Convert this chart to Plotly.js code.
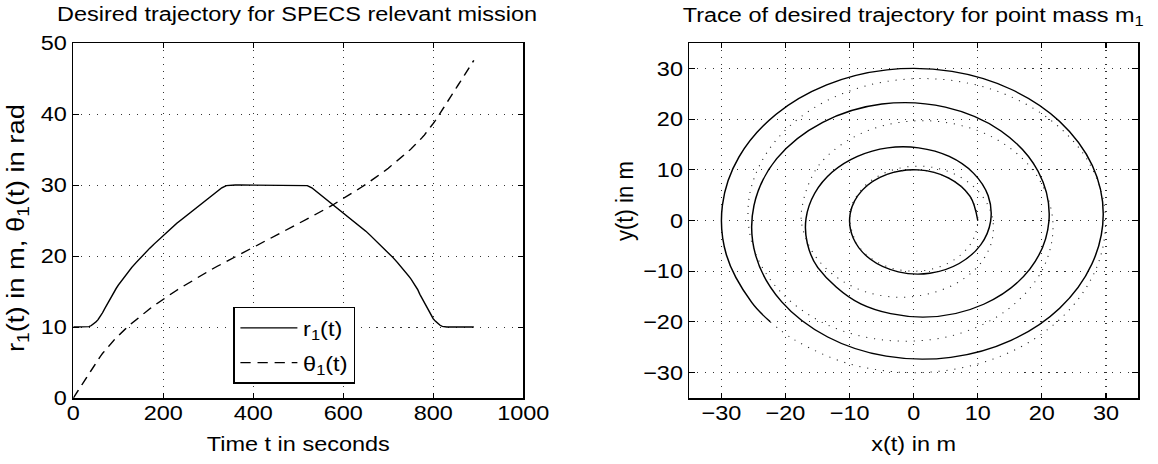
<!DOCTYPE html>
<html>
<head>
<meta charset="utf-8">
<script src="https://cdn.plot.ly/plotly-3.0.1.min.js"></script>
<style>
html,body{margin:0;padding:0;background:#fff;overflow:hidden;width:1158px;height:464px;}
#wrap{width:1016px;height:464px;transform:scale(1.1398,1);transform-origin:0 0;}
#chart{width:1016px;height:464px;}
</style>
</head>
<body>
<div id="wrap"><div id="chart"></div></div>
<script>
// time samples (s)
const timeS = [
  0,5,10,15,20,25,30,35,40,45,50,55,60,65,70,75,80,85,90,95,100,105,110,115,120,
  130,140,150,160,170,180,190,200,210,220,230,240,250,260,270,280,290,300,310,320,330,340,
  350,360,370,380,390,400,410,420,430,440,
  445,
  450,460,470,480,490,500,510,
  520,530,540,550,560,570,580,590,600,610,620,630,640,650,660,670,680,690,700,710,720,730,740,
  745,750,755,760,765,770,775,780,785,790,795,800,805,810,815,820,825,
  830,835,840,845,850,855,860,865,870,875,880,885,890
];
// r1(t) in m
const radiusM = [
  10,10,10,10,10,10,10,10.05,10.2,10.4,10.7,11.05,11.5,12.0,12.6,13.2,13.8,14.35,14.9,15.4,15.9,16.35,16.8,17.2,17.6,
  18.4,19.1,19.8,20.5,21.1,21.7,22.3,22.9,23.5,24.0,24.6,25.1,25.6,26.1,26.6,27.1,27.6,28.1,28.6,29.1,29.6,29.9,
  30,30,30,30,30,30,30,30,30,30,
  30,
  30,30,30,30,30,30,30,
  29.9,29.6,29.1,28.6,28.1,27.6,27.1,26.6,26.1,25.6,25.1,24.6,24.0,23.5,22.9,22.3,21.7,21.1,20.5,19.8,19.1,18.4,17.6,
  17.2,16.8,16.35,15.9,15.3,14.6,14.0,13.4,12.8,12.2,11.6,11.15,10.8,10.5,10.25,10.1,10.02,
  10,10,10,10,10,10,10,10,10,10,10,10,10
];
// theta1(t) in rad
const angleRad = [
  0,0.5,1.0,1.5,2.0,2.5,3.0,3.5,3.99,4.48,4.95,5.41,5.85,6.27,6.68,7.07,7.44,7.80,8.13,8.46,8.78,9.09,9.40,9.69,9.98,
  10.53,11.07,11.58,12.08,12.56,13.03,13.48,13.92,14.35,14.77,15.19,15.59,15.98,16.37,16.75,17.12,17.49,17.85,18.20,18.55,18.89,19.22,
  19.56,19.89,20.22,20.56,20.89,21.22,21.56,21.89,22.22,22.56,
  22.72,
  22.89,23.22,23.56,23.89,24.22,24.56,24.89,
  25.22,25.56,25.90,26.25,26.60,26.96,27.33,27.70,28.08,28.47,28.86,29.26,29.67,30.09,30.52,30.97,31.42,31.89,32.37,32.87,33.38,33.91,34.47,
  34.76,35.05,35.35,35.66,35.98,36.31,36.66,37.03,37.41,37.81,38.23,38.67,39.12,39.59,40.07,40.56,41.06,
  41.56,42.06,42.56,43.06,43.56,44.06,44.56,45.06,45.56,46.06,46.56,47.06,47.56
];
// the trace is drawn solid for the first half of the mission and dotted afterwards
const splitTime = 445;

const leftXTicks = [0,200,400,600,800,1000];
const leftYTicks = [0,10,20,30,40,50];
const rightTicks = [-30,-20,-10,0,10,20,30];

const traceX = radiusM.map((r,i)=>r*Math.cos(angleRad[i]));
const traceY = radiusM.map((r,i)=>r*Math.sin(angleRad[i]));
const splitIdx = timeS.indexOf(splitTime);

const fontFam = '"Liberation Sans", Arial, Helvetica, sans-serif';
const fs = 20.6;
const tf = {family:fontFam, size:fs, color:'#000'};

const data = [
  {x: timeS, y: radiusM, type:'scatter', mode:'lines', name:'r<sub>1</sub>(t)', legendgroup:'r',
   line:{color:'#000', width:1.3}, xaxis:'x', yaxis:'y'},
  {x: timeS, y: angleRad, type:'scatter', mode:'lines', name:'θ<sub>1</sub>(t)', legendgroup:'th',
   line:{color:'#000', width:1.3, dash:'9px,6px'}, xaxis:'x', yaxis:'y'},
  {x: traceX.slice(0, splitIdx+1), y: traceY.slice(0, splitIdx+1), type:'scatter', mode:'lines',
   line:{color:'#000', width:1.3, shape:'spline', smoothing:1}, xaxis:'x2', yaxis:'y2', showlegend:false},
  {x: traceX.slice(splitIdx), y: traceY.slice(splitIdx), type:'scatter', mode:'lines',
   line:{color:'#222', width:1, shape:'spline', smoothing:1, dash:'1px,6px'}, xaxis:'x2', yaxis:'y2', showlegend:false}
];

function ax(extra){
  return Object.assign({
    showline:true, linecolor:'#000', linewidth:1.5, mirror:'ticks',
    ticks:'inside', ticklen:5, tickwidth:1, tickcolor:'#000',
    showgrid:true, gridcolor:'rgba(0,0,0,0.8)', gridwidth:1, griddash:'1px,6px',
    zeroline:false, fixedrange:true, tickfont:tf
  }, extra);
}

const layout = {
  width:1016, height:464,
  margin:{l:0, r:0, t:43, b:66, pad:0},
  paper_bgcolor:'#fff', plot_bgcolor:'#fff',
  font:tf,
  showlegend:true,
  legend:{x:0.2015, y:0.2572, xanchor:'left', yanchor:'top', bgcolor:'#fff',
          bordercolor:'#000', borderwidth:1.2, font:tf, itemwidth:50, tracegroupgap:5},
  xaxis: ax({domain:[0.0633,0.4519], range:[0,1000], tickvals:leftXTicks, anchor:'y', ticklabelstandoff:-4,
             title:{text:'Time t in seconds', standoff:13, font:tf}}),
  yaxis: ax({domain:[0,1], range:[0,50], tickvals:leftYTicks, anchor:'x'}),
  xaxis2: ax({domain:[0.5953,0.9827], range:[-35,35], tickvals:rightTicks, anchor:'y2', ticklabelstandoff:-4,
             title:{text:'x(t) in m', standoff:13, font:tf}}),
  yaxis2: ax({domain:[0,1], range:[-35,35], tickvals:rightTicks, anchor:'x2'}),
  annotations:[
    {text:'Desired trajectory for SPECS relevant mission', xref:'paper', yref:'paper',
     x:0.2566, y:1.0845, xanchor:'center', yanchor:'middle', showarrow:false, font:tf},
    {text:'Trace of desired trajectory for point mass m<sub>1</sub>', xref:'paper', yref:'paper',
     x:0.788, y:1.076, xanchor:'center', yanchor:'middle', showarrow:false, font:tf},
    {text:'r<sub>1</sub>(t) in m, θ<sub>1</sub>(t) in rad', xref:'paper', yref:'paper',
     x:0.0152, y:0.479, xanchor:'center', yanchor:'middle', textangle:-90, showarrow:false, font:tf},
    {text:'y(t) in m', xref:'paper', yref:'paper',
     x:0.5397, y:0.555, xanchor:'center', yanchor:'middle', textangle:-90, showarrow:false, font:tf}
  ]
};

// lengths (px) of the rotated axis labels as they appear in the reference
const yLabelLengths = {2: 248, 3: 80};

Plotly.newPlot('chart', data, layout, {displayModeBar:false, staticPlot:true}).then(gd => {
  Object.keys(yLabelLengths).forEach(k => {
    const el = gd.querySelector('.annotation[data-index="' + k + '"] text.annotation-text');
    if (el) {
      el.setAttribute('textLength', yLabelLengths[k]);
      el.setAttribute('lengthAdjust', 'spacingAndGlyphs');
    }
  });
});
</script>
</body>
</html>
